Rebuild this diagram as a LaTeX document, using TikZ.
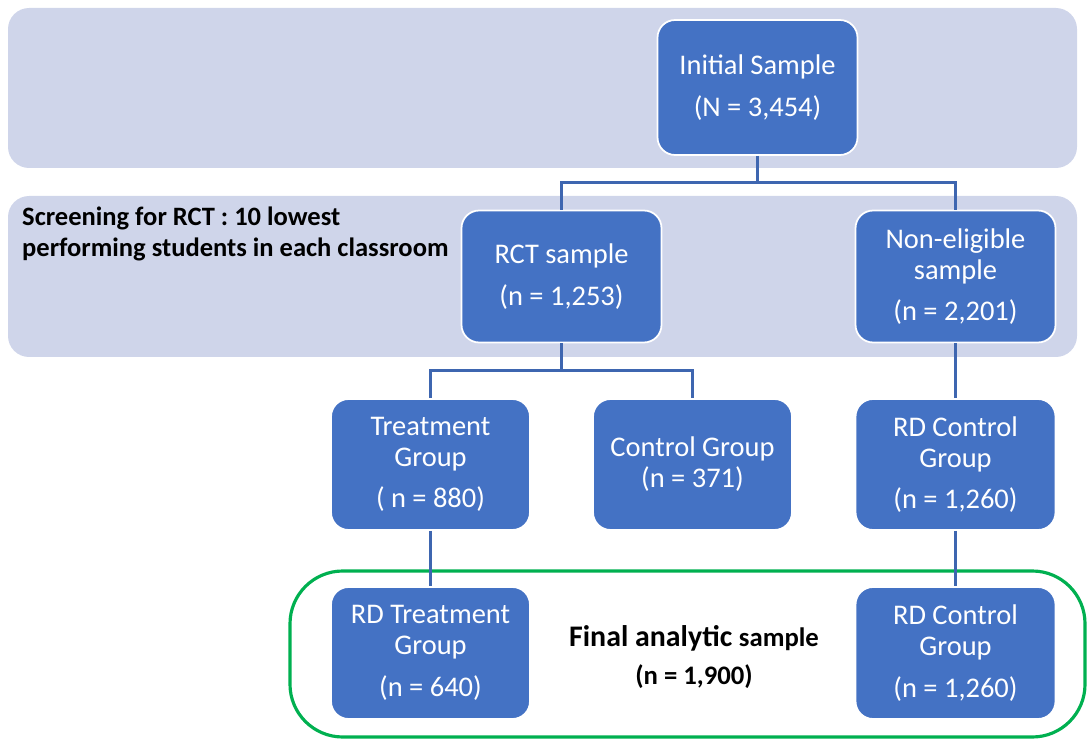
\documentclass[tikz,border=0pt]{standalone}
\usepackage{fontspec}
\setmainfont{Carlito}
\definecolor{bandgray}{HTML}{CFD5EA}
\definecolor{boxblue}{HTML}{4472C4}
\definecolor{linkblue}{HTML}{3E66B0}
\definecolor{finalgreen}{HTML}{00B050}
\begin{document}
\begin{tikzpicture}[x=0.02cm, y=-0.02cm,
        band/.style={fill=bandgray, rounded corners=12},
        sample/.style={rectangle, fill=boxblue, draw=white, line width=1pt, rounded corners=10,
            minimum width=4cm, minimum height=2.64cm, text=white, align=center,
            font=\fontsize{16.2}{17.6}\selectfont},
        link/.style={draw=linkblue, line width=1.2pt}]
            \useasboundingbox (0,0) rectangle (1091,739);
            \fill[band] (8,8) rectangle (1077,168);
            \fill[band] (8,196) rectangle (1077,357);
            \draw[finalgreen, line width=1.8pt, rounded corners=30] (290,571) rectangle (1085,737);

            \node[sample, minimum height=2.7cm] (init) at (757.5,87.5) {Initial Sample\\[6pt] (N = 3,454)};
            \node[sample] (rct) at (561.5,276.5) {RCT sample\\[6pt](n = 1,253)};
            \node[sample] (nonel) at (955.5,276.5) {Non-eligible\\sample\\[6pt](n = 2,201)};
            \node[sample, minimum width=3.98cm, minimum height=2.62cm] (treat) at (430.5,464.5) {Treatment\\Group\\[6pt]( n = 880)};
            \node[sample, minimum width=3.98cm, minimum height=2.62cm] (ctrl) at (692.5,464.5) {Control Group\\(n = 371)};
            \node[sample, minimum height=2.62cm] (rdctrl) at (955.5,464.5) {RD Control\\Group\\[6pt](n = 1,260)};
            \node[sample, minimum width=3.98cm] (rdtreat) at (430.5,653) {RD Treatment\\Group\\[6pt](n = 640)};
            \node[sample] (finalctrl) at (955.5,653) {RD Control\\Group\\[6pt](n = 1,260)};

            \coordinate (fork1) at (757.5,182.5);
            \coordinate (fork2) at (561.5,370.5);
            \draw[link] (init.south) -- (fork1);
            \draw[link] (rct.north) |- (fork1) -| (nonel.north);
            \draw[link] (rct.south) -- (fork2);
            \draw[link] (treat.north) |- (fork2) -| (ctrl.north);
            \draw[link] (nonel.south) -- (rdctrl.north);
            \draw[link] (treat.south) -- (rdtreat.north);
            \draw[link] (rdctrl.south) -- (finalctrl.north);

            \node[anchor=west, align=left, font=\bfseries\fontsize{15.1}{17.6}\selectfont] (screen) at (16,234)
                {Screening for RCT : 10 lowest\\performing students in each classroom};
            \node[align=center, font=\bfseries\fontsize{17}{21.5}\selectfont] (final) at (694,657)
                {Final analytic {\fontsize{15.2}{21.5}\selectfont sample}\\{\fontsize{15.2}{21.5}\selectfont (n = 1,900)}};

        \end{tikzpicture}
\end{document}
